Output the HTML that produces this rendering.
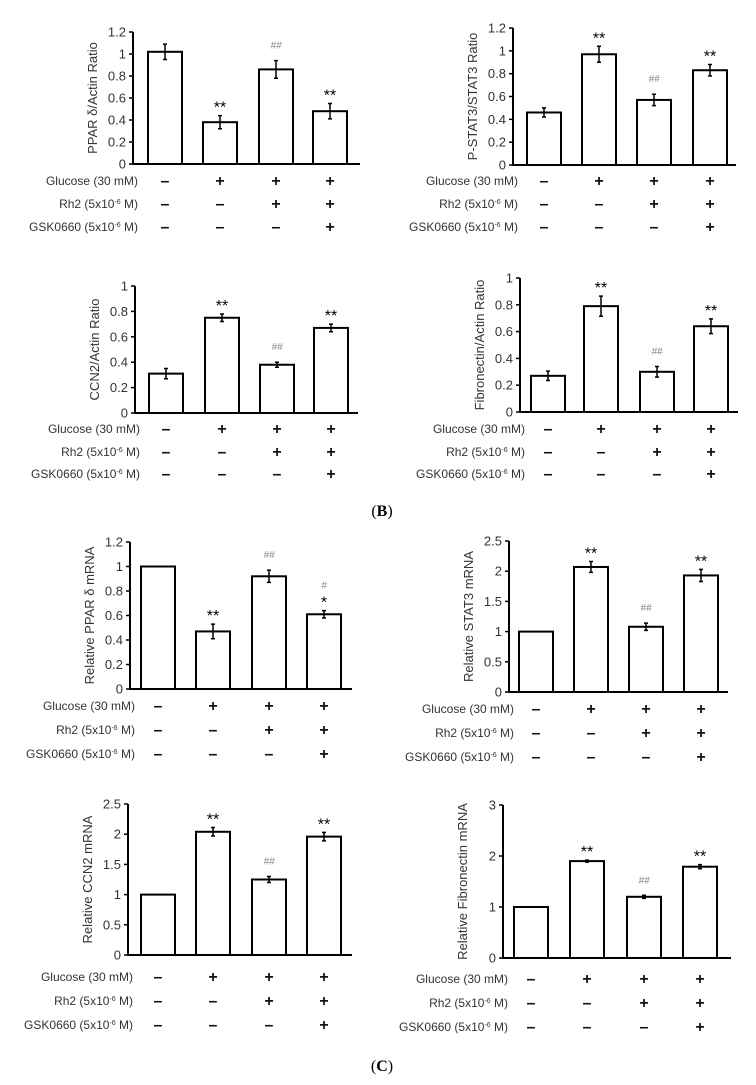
<!DOCTYPE html>
<html><head><meta charset="utf-8">
<style>
html,body{margin:0;padding:0;background:#fff;}
svg{display:block;font-family:"Liberation Sans",Arial,sans-serif;}
</style></head>
<body>
<svg id="fig" width="756" height="1085" viewBox="0 0 756 1085" xmlns="http://www.w3.org/2000/svg">
<text x="382" y="516" text-anchor="middle" font-family="Liberation Serif,serif" font-size="16">(<tspan font-weight="bold">B</tspan>)</text>
<text x="382" y="1071" text-anchor="middle" font-family="Liberation Serif,serif" font-size="16">(<tspan font-weight="bold">C</tspan>)</text>
</svg>
<script>
const categories = ["control","glucose","glucose-rh2","glucose-rh2-gsk0660"];
const rowLabels = ["Glucose (30 mM)","Rh2 (5x10","GSK0660 (5x10"];
const glucoseSigns = ["-","+","+","+"];
const rh2Signs = ["-","-","+","+"];
const gskSigns = ["-","-","-","+"];

const p1Values = [1.02,0.38,0.86,0.48];
const p1Errors = [0.07,0.06,0.08,0.07];
const p1Marks = ["","**","##","**"];
const p1Ticks = [0,0.2,0.4,0.6,0.8,1,1.2];

const p2Values = [0.46,0.97,0.57,0.83];
const p2Errors = [0.04,0.07,0.05,0.05];
const p2Marks = ["","**","##","**"];
const p2Ticks = [0,0.2,0.4,0.6,0.8,1,1.2];

const p3Values = [0.31,0.75,0.38,0.67];
const p3Errors = [0.04,0.03,0.02,0.03];
const p3Marks = ["","**","##","**"];
const p3Ticks = [0,0.2,0.4,0.6,0.8,1];

const p4Values = [0.27,0.79,0.30,0.64];
const p4Errors = [0.035,0.075,0.04,0.055];
const p4Marks = ["","**","##","**"];
const p4Ticks = [0,0.2,0.4,0.6,0.8,1];

const p5Values = [1,0.47,0.92,0.61];
const p5Errors = [0,0.06,0.05,0.03];
const p5Marks = ["","**","##","#|*"];
const p5Ticks = [0,0.2,0.4,0.6,0.8,1,1.2];

const p6Values = [1,2.07,1.08,1.93];
const p6Errors = [0,0.09,0.06,0.1];
const p6Marks = ["","**","##","**"];
const p6Ticks = [0,0.5,1,1.5,2,2.5];

const p7Values = [1,2.04,1.25,1.96];
const p7Errors = [0,0.07,0.05,0.07];
const p7Marks = ["","**","##","**"];
const p7Ticks = [0,0.5,1,1.5,2,2.5];

const p8Values = [1,1.9,1.2,1.79];
const p8Errors = [0,0.02,0.03,0.04];
const p8Marks = ["","**","##","**"];
const p8Ticks = [0,1,2,3];

const NS="http://www.w3.org/2000/svg";
const svg=document.getElementById('fig');
function mk(tag,attrs,parent){const e=document.createElementNS(NS,tag);for(const k in attrs)e.setAttribute(k,attrs[k]);(parent||svg).appendChild(e);return e;}

function panel(cfg,values,errors,marks,ticks){
  const g=mk('g',{});
  
  
  const max=ticks[ticks.length-1];
  const y=v=>cfg.y0-(v/max)*(cfg.y0-cfg.yTop);
  const x=i=>cfg.bars[i];
  const bw=34;
  values.forEach((v,i)=>{
    const r=mk('rect',{x:x(i)-bw/2,y:y(v),width:bw,height:cfg.y0-y(v),fill:'#fff',stroke:'#000','stroke-width':2},g);
    
    
    if(errors[i]>0){
      const e=mk('path',{d:`M${x(i)},${y(v+errors[i])}V${y(v-errors[i])}M${x(i)-2},${y(v+errors[i])}H${x(i)+2}M${x(i)-2},${y(v-errors[i])}H${x(i)+2}`,stroke:'#000','stroke-width':1.5,fill:'none'},g);
      
      
    }
    const m=marks[i];
    if(m){
      const top=y(v+errors[i])-8;
      const parts=m.split('|').reverse();
      parts.forEach((p,k)=>{
        const isHash=p.indexOf('#')>=0;
        const t=mk('text',{x:x(i),y:top-k*10+(isHash?-4:5),'text-anchor':'middle','font-size':isHash?10:16,fill:isHash?'#888':'#000','font-style':isHash?'italic':'normal'},g);
        t.textContent=p;
        
        
      });
    }
  });
  const ax=mk('path',{d:`M${cfg.ax},${cfg.yTop}V${cfg.y0}H${cfg.xEnd}`,stroke:'#000','stroke-width':2,fill:'none'},g);
  
  
  ticks.forEach(t=>{
    mk('line',{x1:cfg.ax-4,x2:cfg.ax,y1:y(t),y2:y(t),stroke:'#000','stroke-width':1.5},g);
    const tl=mk('text',{x:cfg.ax-7,y:y(t)+4.5,'text-anchor':'end','font-size':13,fill:'#333'},g);
    tl.textContent=String(t);
    
    
  });
  const cy=(cfg.y0+cfg.yTop)/2;
  const yt=mk('text',{x:cfg.ax-36,y:cy,'text-anchor':'middle','font-size':13,fill:'#333',transform:`rotate(-90 ${cfg.ax-36} ${cy})`},g);
  yt.textContent=cfg.title;
  
  
  const signs=[glucoseSigns,rh2Signs,gskSigns];
  cfg.rows.forEach((ry,r)=>{
    const lt=mk('text',{x:cfg.ax+5,y:ry+4,'text-anchor':'end','font-size':12,fill:'#333'},g);
    if(r===0){lt.textContent=rowLabels[0];}
    else{
      lt.textContent=rowLabels[r];
      const s=mk('tspan',{dy:-4,'font-size':7},lt);s.textContent='-6';
      const s2=mk('tspan',{dy:4},lt);s2.textContent=' M)';
    }
    
    
    signs[r].forEach((sg,i)=>{
      const st=mk('text',{x:x(i),y:ry+5,'text-anchor':'middle','font-size':16,'font-weight':'bold',fill:'#111'},g);
      st.textContent=sg==='-'?'–':'+';
      
      
    });
  });
}

panel({name:'ppard-protein-chart',title:'PPAR δ/Actin Ratio',ax:133,yTop:32,y0:164,xEnd:360,bars:[165,220,276,330],rows:[181,204,227]},p1Values,p1Errors,p1Marks,p1Ticks);
panel({name:'pstat3-chart',title:'P-STAT3/STAT3 Ratio',ax:513,yTop:28,y0:165,xEnd:736,bars:[544,599,654,710],rows:[181,204,227]},p2Values,p2Errors,p2Marks,p2Ticks);
panel({name:'ccn2-protein-chart',title:'CCN2/Actin Ratio',ax:135,yTop:286,y0:413,xEnd:358,bars:[166,222,277,331],rows:[429,452,474]},p3Values,p3Errors,p3Marks,p3Ticks);
panel({name:'fibronectin-protein-chart',title:'Fibronectin/Actin Ratio',ax:520,yTop:278,y0:412,xEnd:738,bars:[548,601,657,711],rows:[429,452,474]},p4Values,p4Errors,p4Marks,p4Ticks);
panel({name:'ppard-mrna-chart',title:'Relative PPAR δ mRNA',ax:130,yTop:542,y0:689,xEnd:352,bars:[158,213,269,324],rows:[706,730,754]},p5Values,p5Errors,p5Marks,p5Ticks);
panel({name:'stat3-mrna-chart',title:'Relative STAT3 mRNA',ax:509,yTop:541,y0:692,xEnd:728,bars:[536,591,646,701],rows:[709,733,757]},p6Values,p6Errors,p6Marks,p6Ticks);
panel({name:'ccn2-mrna-chart',title:'Relative CCN2 mRNA',ax:128,yTop:804,y0:955,xEnd:352,bars:[158,213,269,324],rows:[977,1001,1025]},p7Values,p7Errors,p7Marks,p7Ticks);
panel({name:'fibronectin-mrna-chart',title:'Relative Fibronectin mRNA',ax:503,yTop:805,y0:958,xEnd:731,bars:[531,587,644,700],rows:[979,1003,1027]},p8Values,p8Errors,p8Marks,p8Ticks);
</script>
</body></html>
